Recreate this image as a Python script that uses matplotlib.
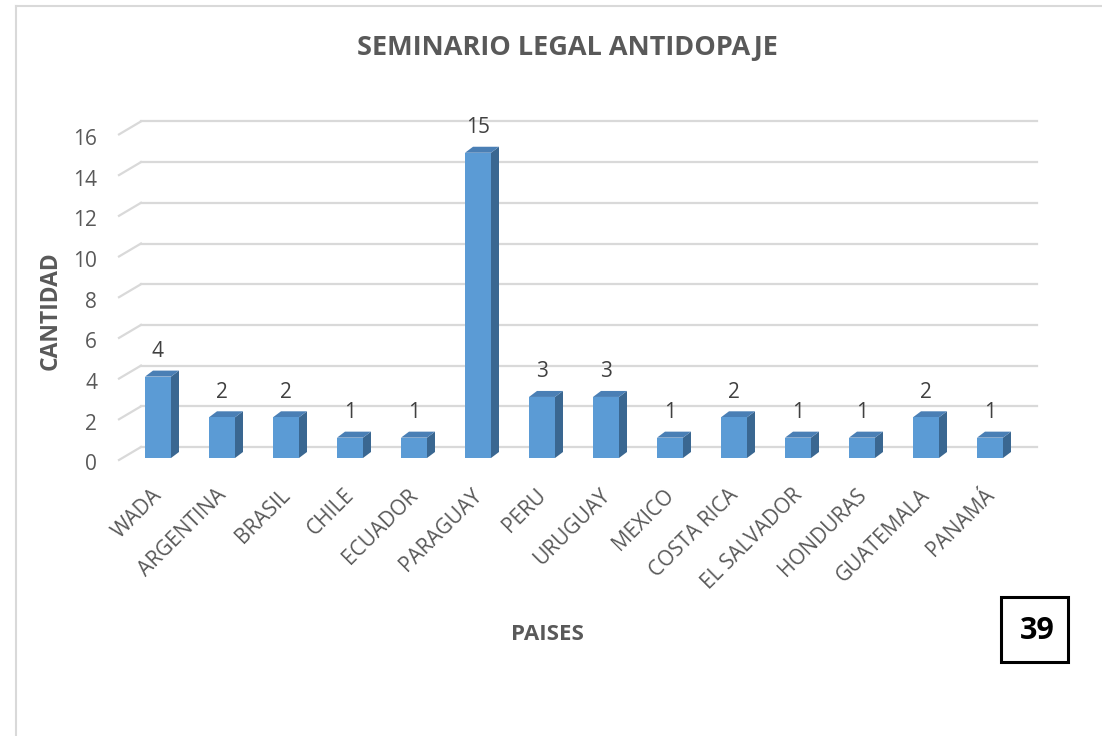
import matplotlib.pyplot as plt
from matplotlib.patches import Polygon, Rectangle
from matplotlib.lines import Line2D

# --- Data ---
paises = ['WADA', 'ARGENTINA', 'BRASIL', 'CHILE', 'ECUADOR', 'PARAGUAY', 'PERU',
          'URUGUAY', 'MEXICO', 'COSTA RICA', 'EL SALVADOR', 'HONDURAS',
          'GUATEMALA', 'PANAMÁ']
cantidad = [4, 2, 2, 1, 1, 15, 3, 3, 1, 2, 1, 1, 2, 1]
y_ticks = [0, 2, 4, 6, 8, 10, 12, 14, 16]

# --- Style ---
plt.rcParams['font.family'] = ['Open Sans', 'DejaVu Sans']
txt_color = '#595959'
grid_color = '#d9d9d9'
c_front = '#5b9bd5'
c_top = '#4a7fb5'
c_side = '#3a6791'

W, H = 1102, 736
fig = plt.figure(figsize=(W / 100, H / 100), dpi=100)
fig.patch.set_facecolor('white')

# axes = front plane of the bars
px_left, px_right = 126, 1022
px_y0, px_unit = 458, 20.35
ax = fig.add_axes([px_left / W, (H - px_y0) / H,
                   (px_right - px_left) / W, 16 * px_unit / H])
ax.set_xlim(-0.5, len(paises) - 0.5)
ax.set_ylim(0, 16)
ax.axis('off')

ux = (px_right - px_left) / len(paises)  # px per category
def dxu(px):
    return px / ux
def dyu(px):
    return px / px_unit

# back wall and front edge offsets (px)
back_dx, back_dy = dxu(15), dyu(11)
front_dx, front_dy = dxu(-7), dyu(-2)
x_lo, x_hi = -0.5, len(paises) - 0.5

for v in y_ticks:
    ax.add_line(Line2D([x_lo + back_dx, x_hi + back_dx], [v + back_dy, v + back_dy],
                       color=grid_color, lw=1.6, clip_on=False, zorder=1))
    ax.add_line(Line2D([x_lo + front_dx, x_lo + back_dx], [v + front_dy, v + back_dy],
                       color=grid_color, lw=1.6, clip_on=False, zorder=1))
    ax.text(x_lo + dxu(-29), v + front_dy - dyu(5), str(v), ha='right', va='center',
            fontsize=15, color=txt_color)

# bars (front face + top + side)
bw = 26 / ux
bdx, bdy = dxu(8), dyu(6)
for i, v in enumerate(cantidad):
    x0, x1 = i - bw / 2, i + bw / 2
    ax.add_patch(Polygon([(x1, 0), (x1 + bdx, bdy), (x1 + bdx, v + bdy), (x1, v)],
                         closed=True, facecolor=c_side, edgecolor='none', zorder=3))
    ax.add_patch(Polygon([(x0, v), (x1, v), (x1 + bdx, v + bdy), (x0 + bdx, v + bdy)],
                         closed=True, facecolor=c_top, edgecolor='none', zorder=3))
    ax.bar(i, v, width=bw, color=c_front, zorder=4)
    ax.text(i, v + dyu(25), str(v), ha='center', va='center', fontsize=15,
            color='#404040', zorder=5)
    ax.text(i + dxu(1), -dyu(34), paises[i], rotation=45, rotation_mode='anchor',
            ha='right', va='center', fontsize=15, color=txt_color)

# titles
fig.text(567 / W, 1 - 48 / H, 'SEMINARIO LEGAL ANTIDOPAJE', ha='center', va='center',
         fontsize=19.5, fontweight='bold', color=txt_color)
fig.text(51 / W, 1 - 311 / H, 'CANTIDAD', rotation=90, ha='center', va='center',
         fontsize=16.5, fontweight='bold', color=txt_color)
fig.text(547 / W, 1 - 635 / H, 'PAISES', ha='center', va='center',
         fontsize=16, fontweight='bold', color=txt_color)

# outer frame (partial, as in the source crop)
fig.add_artist(Line2D([16 / W, 16 / W], [0, 1 - 6 / H], color=grid_color, lw=1.5))
fig.add_artist(Line2D([16 / W, 1], [1 - 6 / H, 1 - 6 / H], color=grid_color, lw=1.5))

# page number box
fig.add_artist(Rectangle((1001 / W, 1 - 662 / H), 67 / W, 65 / H, transform=fig.transFigure,
                         facecolor='white', edgecolor='black', lw=2.2))
fig.text(1037 / W, 1 - 631 / H, '39', ha='center', va='center', fontsize=22,
         fontweight='bold', color='black')

fig.savefig('out.png', dpi=100)
plt.close(fig)
